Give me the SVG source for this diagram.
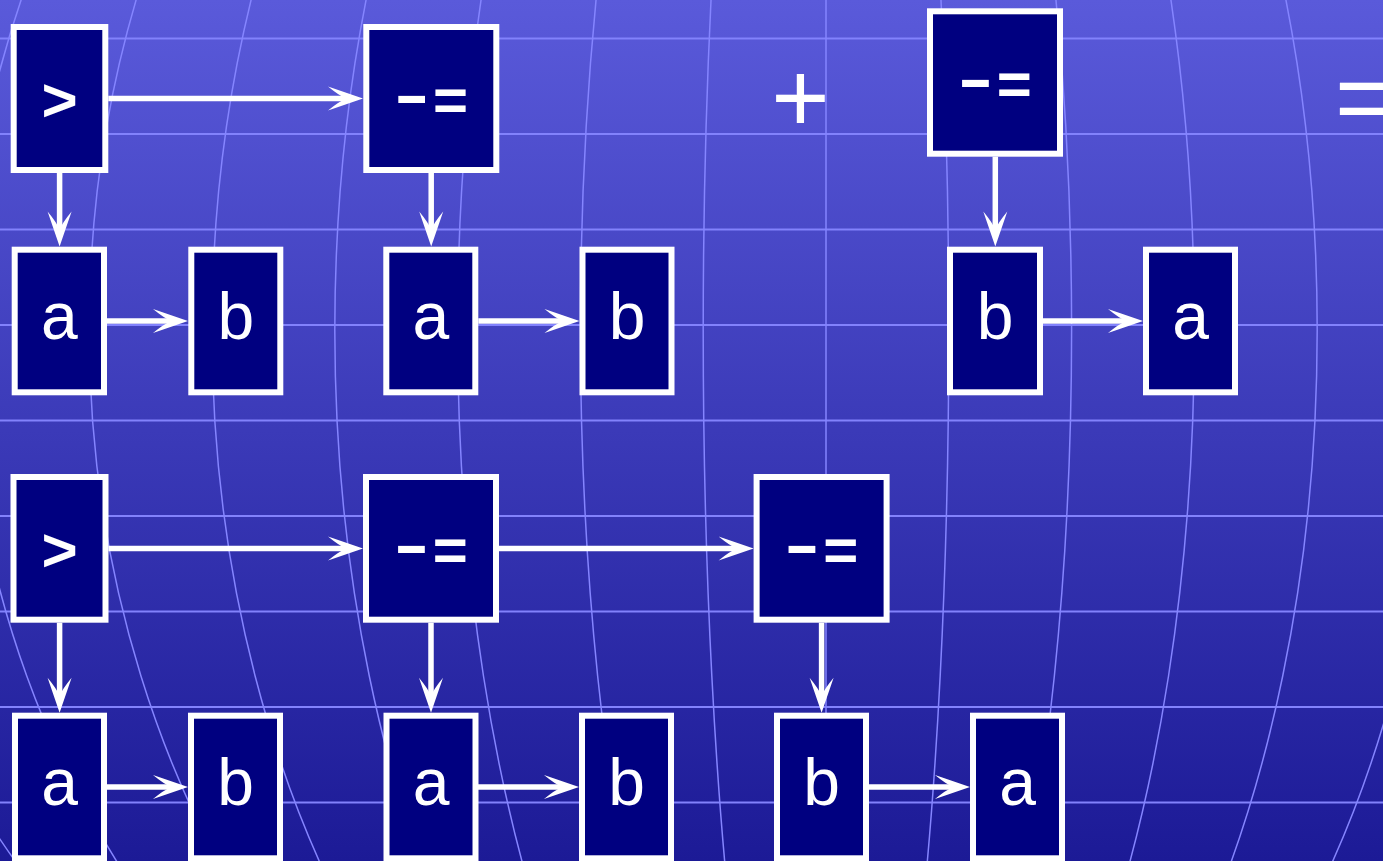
<svg xmlns="http://www.w3.org/2000/svg" width="1383" height="861" viewBox="0 0 1383 861">
<defs>
<linearGradient id="bg" x1="0" y1="0" x2="0" y2="1">
<stop offset="0" stop-color="#5a5ada"/>
<stop offset="1" stop-color="#1c1a96"/>
</linearGradient>
<marker id="ah" viewBox="-36 -13 37 26" refX="-12" refY="0" markerWidth="37" markerHeight="26" markerUnits="userSpaceOnUse" orient="auto">
<path d="M0,0 L-35,-12 Q-24,-3 -17,0 Q-24,3 -35,12 Z" fill="#ffffff"/>
</marker>
</defs>
<style>
.hl{stroke:#8282fc;stroke-width:2;fill:none}
.vl{stroke:#8585ff;stroke-width:1.5;fill:none}
.box{fill:#000080;stroke:#ffffff;stroke-width:6}
.op{font-family:"Liberation Sans",Arial,sans-serif;font-weight:bold;font-size:62px;fill:#ffffff;text-anchor:middle}
.opm{font-family:"Liberation Sans",Arial,sans-serif;font-weight:bold;font-size:60px;fill:#ffffff}
.var{font-family:"Liberation Sans",Arial,sans-serif;font-size:66px;fill:#ffffff;text-anchor:middle}
.sym{font-family:"Liberation Sans",Arial,sans-serif;font-size:100px;fill:#ffffff}
.cn{stroke:#ffffff;stroke-width:5.5;fill:none;marker-end:url(#ah)}
</style>
<rect x="0" y="0" width="1383" height="861" fill="url(#bg)"/>
<g id="grid">
<path class="hl" d="M0,38.5H1383M0,134H1383M0,229.5H1383M0,325H1383M0,420.5H1383M0,516H1383M0,611.5H1383M0,707H1383M0,802.5H1383"/>
<line class="vl" x1="826" y1="0" x2="826" y2="861"/>
<ellipse class="vl" cx="826" cy="330" rx="122.8" ry="940"/>
<ellipse class="vl" cx="826" cy="330" rx="245.6" ry="940"/>
<ellipse class="vl" cx="826" cy="330" rx="368.4" ry="940"/>
<ellipse class="vl" cx="826" cy="330" rx="491.2" ry="940"/>
<ellipse class="vl" cx="826" cy="330" rx="614" ry="940"/>
<ellipse class="vl" cx="826" cy="330" rx="736.8" ry="940"/>
<ellipse class="vl" cx="826" cy="330" rx="859.6" ry="940"/>
<ellipse class="vl" cx="826" cy="330" rx="982.4" ry="940"/>
</g>
<g id="connectors">
<path class="cn" d="M108.3,98.5H351"/>
<path class="cn" d="M59.6,173V234.5"/>
<path class="cn" d="M431.2,173V234.5"/>
<path class="cn" d="M107,321H176"/>
<path class="cn" d="M478.3,321H567.5"/>
<path class="cn" d="M995.3,156.7V234.5"/>
<path class="cn" d="M1043,321H1131"/>
<path class="cn" d="M108.5,548.4H351"/>
<path class="cn" d="M499,548.4H741.6"/>
<path class="cn" d="M59.6,622.7V700.7"/>
<path class="cn" d="M431,622.7V700.7"/>
<path class="cn" d="M821.6,622.7V700.7"/>
<path class="cn" d="M107,787H176"/>
<path class="cn" d="M478,787H567"/>
<path class="cn" d="M869,787H958"/>
</g>
<g id="n_gt1"><rect class="box" x="13.7" y="27" width="91.6" height="143"/><text class="op" x="59.5" y="121">&gt;</text></g>
<g id="n_sub1"><rect class="box" x="366.3" y="27" width="130" height="143"/><text class="opm" x="394.3" y="120"><tspan dy="-5" textLength="35" lengthAdjust="spacingAndGlyphs">-</tspan><tspan x="433" dy="5">=</tspan></text></g>
<g id="n_a1"><rect class="box" x="14.7" y="249.7" width="89.3" height="142.6"/><text class="var" x="59.4" y="339">a</text></g>
<g id="n_b1"><rect class="box" x="191.3" y="249.7" width="89" height="142.6"/><text class="var" x="235.8" y="339">b</text></g>
<g id="n_a2"><rect class="box" x="386.3" y="249.7" width="89" height="142.6"/><text class="var" x="430.8" y="339">a</text></g>
<g id="n_b2"><rect class="box" x="582.5" y="249.7" width="89" height="142.6"/><text class="var" x="627" y="339">b</text></g>
<text id="plus" class="sym" x="800.5" y="131.5" text-anchor="middle">+</text>
<g id="n_sub2"><rect class="box" x="930" y="11.3" width="130" height="142.4"/><text class="opm" x="958" y="104"><tspan dy="-5" textLength="35" lengthAdjust="spacingAndGlyphs">-</tspan><tspan x="996.7" dy="5">=</tspan></text></g>
<g id="n_b3"><rect class="box" x="950" y="249.7" width="90" height="142.6"/><text class="var" x="995" y="339">b</text></g>
<g id="n_a3"><rect class="box" x="1146" y="249.7" width="89" height="142.6"/><text class="var" x="1190.5" y="339">a</text></g>
<text id="equals" class="sym" x="1335" y="131.5">=</text>
<g id="n_gt2"><rect class="box" x="13.5" y="477" width="92" height="142.7"/><text class="op" x="59.5" y="571">&gt;</text></g>
<g id="n_sub3"><rect class="box" x="366" y="477" width="130" height="142.7"/><text class="opm" x="394" y="570"><tspan dy="-5" textLength="35" lengthAdjust="spacingAndGlyphs">-</tspan><tspan x="432.7" dy="5">=</tspan></text></g>
<g id="n_sub4"><rect class="box" x="756.6" y="477" width="130" height="142.7"/><text class="opm" x="784.6" y="570"><tspan dy="-5" textLength="35" lengthAdjust="spacingAndGlyphs">-</tspan><tspan x="823.3" dy="5">=</tspan></text></g>
<g id="n_a4"><rect class="box" x="15" y="715.7" width="89" height="142.6"/><text class="var" x="59.5" y="805">a</text></g>
<g id="n_b4"><rect class="box" x="191" y="715.7" width="89" height="142.6"/><text class="var" x="235.5" y="805">b</text></g>
<g id="n_a5"><rect class="box" x="386.5" y="715.7" width="89" height="142.6"/><text class="var" x="431" y="805">a</text></g>
<g id="n_b5"><rect class="box" x="582" y="715.7" width="89" height="142.6"/><text class="var" x="626.5" y="805">b</text></g>
<g id="n_b6"><rect class="box" x="777" y="715.7" width="89" height="142.6"/><text class="var" x="821.5" y="805">b</text></g>
<g id="n_a6"><rect class="box" x="973" y="715.7" width="89" height="142.6"/><text class="var" x="1017.5" y="805">a</text></g>
</svg>
